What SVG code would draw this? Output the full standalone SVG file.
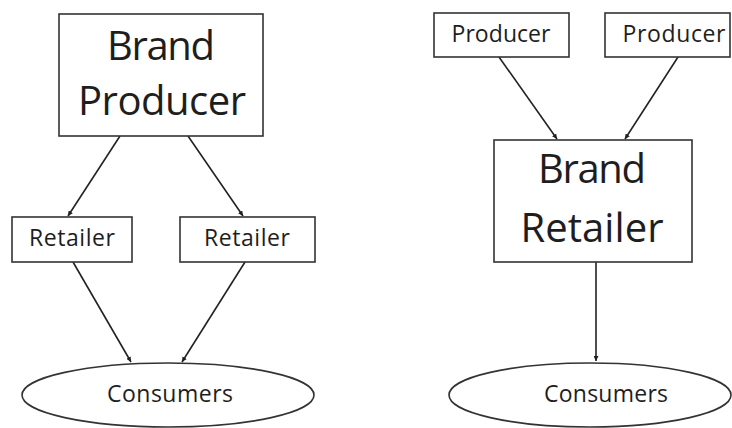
<svg xmlns="http://www.w3.org/2000/svg" width="732" height="428" viewBox="0 0 732 428">
  <defs>
    <style>
      .box { fill: #ffffff; stroke: #333333; stroke-width: 1.6; }
      .oval { fill: #ffffff; stroke: #333333; stroke-width: 1.6; }
      .edge { stroke: #222222; stroke-width: 1.6; fill: none; marker-end: url(#tip); }
      text { font-family: "Open Sans", "Noto Sans", "Liberation Sans", sans-serif; fill: #1e1e1e; text-anchor: middle; }
      .big { font-size: 40px; }
      .small { font-size: 23px; }
    </style>
    <marker id="tip" viewBox="0 0 10 10" refX="10" refY="5" markerWidth="5" markerHeight="5" markerUnits="userSpaceOnUse" orient="auto">
      <path d="M0,0 L10,5 L0,10 z" fill="#1e1e1e"/>
    </marker>
  </defs>

  <!-- connectors -->
  <g id="connectors">
    <line class="edge" x1="120" y1="136" x2="68" y2="216"/>
    <line class="edge" x1="188" y1="136" x2="243" y2="216"/>
    <line class="edge" x1="73" y1="262" x2="131" y2="362"/>
    <line class="edge" x1="245" y1="262" x2="182" y2="362"/>
    <line class="edge" x1="499" y1="57" x2="557" y2="139"/>
    <line class="edge" x1="678" y1="57" x2="625" y2="139"/>
    <line class="edge" x1="596" y1="262" x2="596" y2="361"/>
  </g>

  <!-- left chain: brand producer -->
  <g id="brand-producer">
    <rect class="box" x="59" y="14" width="204" height="122"/>
    <text class="big" x="161" y="60" textLength="108">Brand</text>
    <text class="big" x="162" y="115" textLength="168">Producer</text>
  </g>
  <g id="retailer-1">
    <rect class="box" x="12" y="217" width="120" height="45"/>
    <text class="small" x="72" y="246" textLength="86">Retailer</text>
  </g>
  <g id="retailer-2">
    <rect class="box" x="180" y="217" width="135" height="45"/>
    <text class="small" x="247" y="246" textLength="86">Retailer</text>
  </g>
  <g id="consumers-1">
    <ellipse class="oval" cx="168" cy="395" rx="146" ry="32"/>
    <text class="small" x="170" y="402" textLength="126">Consumers</text>
  </g>

  <!-- right chain: brand retailer -->
  <g id="producer-1">
    <rect class="box" x="434" y="13" width="135" height="44"/>
    <text class="small" x="501" y="42" textLength="99">Producer</text>
  </g>
  <g id="producer-2">
    <rect class="box" x="605" y="13" width="125" height="44"/>
    <text class="small" x="674" y="42" textLength="103">Producer</text>
  </g>
  <g id="brand-retailer">
    <rect class="box" x="494" y="140" width="198" height="122"/>
    <text class="big" x="592" y="183" textLength="108">Brand</text>
    <text class="big" x="592" y="242" textLength="143">Retailer</text>
  </g>
  <g id="consumers-2">
    <ellipse class="oval" cx="590" cy="395" rx="141" ry="32"/>
    <text class="small" x="606" y="402" textLength="124">Consumers</text>
  </g>
</svg>
